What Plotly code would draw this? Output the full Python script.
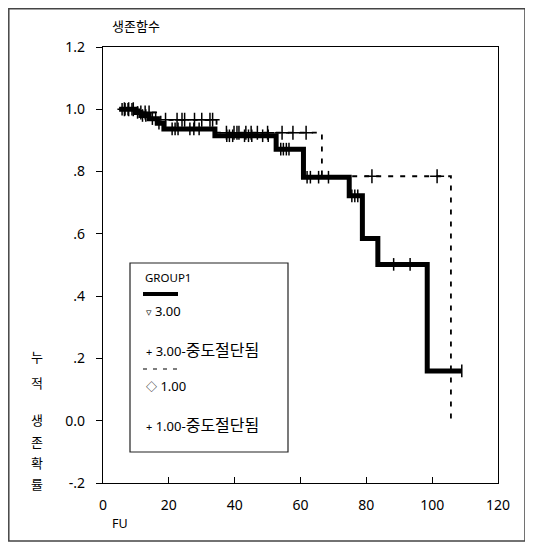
import numpy as np
import plotly.graph_objects as go

# ---------------- data ----------------
title_text = "생존함수"
x_title = "FU"
y_title_chars = ["누", "적", "생", "존", "확", "률"]
x_tick_vals = [0, 20, 40, 60, 80, 100, 120]
y_tick_vals = [-0.2, 0.0, 0.2, 0.4, 0.6, 0.8, 1.0, 1.2]
y_tick_text = ["-.2", "0.0", ".2", ".4", ".6", ".8", "1.0", "1.2"]

legend_title = "GROUP1"
legend_sym = ["▿", "+", "◇", "+"]
legend_num = ["3.00", "3.00-", "1.00", "1.00-"]
legend_kor = ["", "중도절단됨", "", "중도절단됨"]

# group 3.00 (thick solid)
g3_start = 4.9
g3_event_t = [10.0, 11.5, 14.0, 16.5, 18.5, 34.0, 52.6, 60.9, 74.8, 78.8, 83.5, 98.5]
g3_event_s = [0.99, 0.98, 0.97, 0.955, 0.937, 0.915, 0.872, 0.782, 0.722, 0.585, 0.502, 0.16]
g3_end = 109.0
g3_censor_t = [5.8, 6.7, 7.6, 8.8, 10.5, 12.0, 13.0, 15.0, 16.0, 17.0,
               21.0, 21.9, 22.8, 26.4, 27.6, 29.2,
               37.6, 38.4, 39.4, 43.0, 44.2, 45.2, 48.5, 50.2,
               54.0, 54.8, 55.7, 56.5, 62.0, 63.0, 65.5, 68.5,
               75.6, 76.5, 77.4, 88.3, 93.3, 109.0]

# group 1.00 (dashed)
g1_start = 4.9
g1_event_t = [10.5, 17.5, 34.5, 66.5, 105.7]
g1_event_s = [0.99, 0.966, 0.925, 0.785, 0.0]
g1_censor_t = [6.5, 7.8, 9.2, 11.5, 12.8, 14.0,
               19.0, 22.5, 24.0, 24.8, 27.8, 30.0, 32.5, 33.3,
               37.5, 39.8, 40.7, 41.3, 43.4, 45.0, 46.9, 50.0, 54.4, 57.7, 61.7,
               81.7, 101.5]


def step_curve(start, ev_t, ev_s, end=None):
    xs = [start] + list(ev_t)
    ys = [1.0] + list(ev_s)
    if end is not None:
        xs.append(end)
        ys.append(ys[-1])
    return xs, ys


def surv_at(t_list, ev_t, ev_s):
    ev_t = np.asarray(ev_t)
    ev_s = np.asarray(ev_s)
    out = []
    for t in t_list:
        idx = np.searchsorted(ev_t, t, side="right") - 1
        out.append(1.0 if idx < 0 else float(ev_s[idx]))
    return out


# ---------------- layout geometry ----------------
# page coordinates (the html body adds an 8px margin)
OFF = 8
W, H = 533 - OFF, 550 - OFF
PL, PR, PT, PB = 103, 498, 47, 483


def fx(px):
    return (px - PL) / (PR - PL)


def fy(py):
    return 1 - (py - PT) / (PB - PT)


FONT = "Noto Sans, Noto Sans CJK KR, DejaVu Sans, sans-serif"
KFONT = "Noto Sans CJK KR, Noto Sans, DejaVu Sans, sans-serif"

fig = go.Figure()

x3, y3 = step_curve(g3_start, g3_event_t, g3_event_s, g3_end)
fig.add_trace(go.Scatter(x=x3, y=y3, mode="lines", line=dict(color="black", width=5, shape="hv"),
                         showlegend=False, hoverinfo="skip"))
fig.add_trace(go.Scatter(x=g3_censor_t, y=surv_at(g3_censor_t, g3_event_t, g3_event_s), mode="markers",
                         marker=dict(symbol="line-ns", size=9, line=dict(color="black", width=1.5)),
                         showlegend=False, hoverinfo="skip"))

x1, y1 = step_curve(g1_start, g1_event_t, g1_event_s)
fig.add_trace(go.Scatter(x=x1, y=y1, mode="lines",
                         line=dict(color="black", width=1.8, shape="hv", dash="5px,7px"),
                         showlegend=False, hoverinfo="skip"))
fig.add_trace(go.Scatter(x=g1_censor_t, y=surv_at(g1_censor_t, g1_event_t, g1_event_s), mode="markers",
                         marker=dict(symbol="cross-thin", size=10, line=dict(color="black", width=1.5)),
                         showlegend=False, hoverinfo="skip"))

shapes = [
    # outer frame
    dict(type="rect", xref="paper", yref="paper", x0=fx(8.8), x1=fx(525), y0=fy(541), y1=fy(8.8),
         line=dict(color="#444", width=1.5)),
    # legend box
    dict(type="rect", xref="paper", yref="paper", x0=fx(130), x1=fx(288), y0=fy(452), y1=fy(263),
         line=dict(color="#222", width=1.2)),
    # legend line samples
    dict(type="line", xref="paper", yref="paper", x0=fx(143), x1=fx(178), y0=fy(294), y1=fy(294),
         line=dict(color="black", width=4)),
    dict(type="line", xref="paper", yref="paper", x0=fx(143), x1=fx(177), y0=fy(369), y1=fy(369),
         line=dict(color="black", width=1.2, dash="4px,6px")),
]

annotations = [
    dict(text=title_text, xref="paper", yref="paper", x=fx(110), y=fy(26), xanchor="left", yanchor="middle",
         showarrow=False, font=dict(family=KFONT, size=13, color="black")),
    dict(text=x_title, xref="paper", yref="paper", x=fx(110), y=fy(523), xanchor="left", yanchor="middle",
         showarrow=False, font=dict(family=FONT, size=12.5, color="black")),
    dict(text=legend_title, xref="paper", yref="paper", x=fx(143), y=fy(277), xanchor="left", yanchor="middle",
         showarrow=False, font=dict(family=FONT, size=11.5, color="black")),
]
leg_y = [311, 349, 386, 424]
for sym, num, kor, yy in zip(legend_sym, legend_num, legend_kor, leg_y):
    txt = f"<span style='font-size:11px'>{sym}</span> {num}"
    if kor:
        txt += f"<span style='font-family:Noto Sans CJK KR;font-size:16px'>{kor}</span>"
    annotations.append(dict(text=txt, xref="paper", yref="paper", x=fx(144), y=fy(yy), xanchor="left",
                            yanchor="middle", showarrow=False, font=dict(family=FONT, size=13, color="black")))
ychar_y = [356, 382, 419, 441, 462, 484]
for ch, yy in zip(y_title_chars, ychar_y):
    annotations.append(dict(text=ch, xref="paper", yref="paper", x=fx(37), y=fy(yy), xanchor="center",
                            yanchor="middle", showarrow=False, font=dict(family=KFONT, size=13, color="black")))

fig.update_layout(
    width=W, height=H, autosize=False,
    margin=dict(l=PL - OFF, r=W - (PR - OFF), t=PT - OFF, b=H - (PB - OFF), pad=0),
    paper_bgcolor="white", plot_bgcolor="white",
    shapes=shapes, annotations=annotations,
    xaxis=dict(range=[0, 120], tickvals=x_tick_vals, ticks="inside", ticklen=6, tickwidth=1,
               tickcolor="black", showline=True, linecolor="black", linewidth=1.3, mirror=True,
               showgrid=False, zeroline=False, tickfont=dict(family=FONT, size=14, color="black"),
               ticklabelstandoff=9),
    yaxis=dict(range=[-0.2, 1.2], tickvals=y_tick_vals, ticktext=y_tick_text, ticks="outside", ticklen=6,
               tickwidth=1, tickcolor="black", showline=True, linecolor="black", linewidth=1.3, mirror=True,
               showgrid=False, zeroline=False, tickfont=dict(family=FONT, size=14, color="black"),
               ticklabelstandoff=8),
)

fig.write_html("out.html")
